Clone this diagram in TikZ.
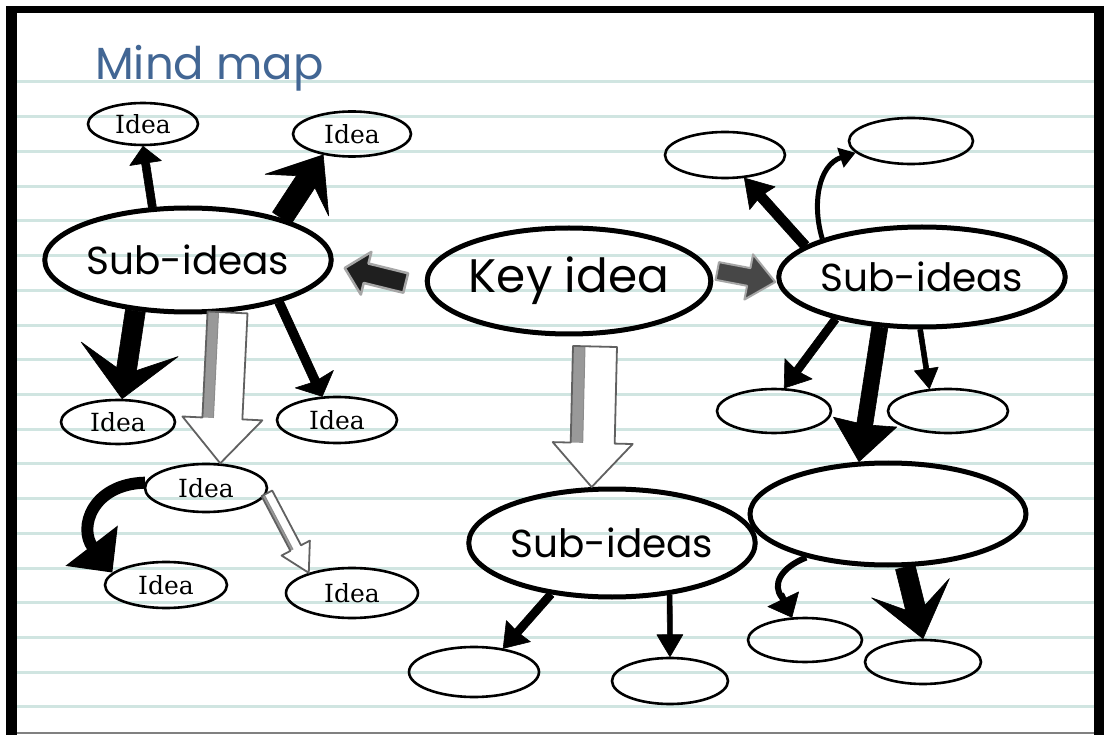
\documentclass[tikz,border=0pt]{standalone}
\usepackage{fontspec}
\usetikzlibrary{shapes.geometric,calc,arrows.meta}
\newfontfamily\handfont{Poppins}
\newfontfamily\ideafont{DejaVu Serif}
\definecolor{ruled}{RGB}{208,229,225}
\definecolor{titleblue}{RGB}{66,102,148}

% block arrow: style, start, tip, shaft half width, head half width, head length, barb distance
\newcommand\blockarr[7]{%
  \coordinate (bas) at #2;
  \coordinate (bat) at #3;
  \coordinate (bah) at ($(bat)!#6pt!(bas)$);
  \coordinate (bab) at ($(bat)!#7pt!(bas)$);
  \path[#1] ($(bas)!#4pt!90:(bat)$) -- ($(bah)!#4pt!-90:(bas)$) -- ($(bab)!#5pt!-90:(bas)$) -- (bat) -- ($(bab)!#5pt!90:(bas)$) -- ($(bah)!#4pt!90:(bas)$) -- ($(bas)!#4pt!-90:(bat)$) -- cycle;
}
% sketched hollow arrow: start, tip, shaft half, head half, head length, shade strip width
\newcommand\hollowarr[6]{%
  \blockarr{hollowfill}{#1}{#2}{#3}{#4}{#5}{#5}
  \pgfmathsetmacro\hinner{#3-#6}
  \fill[sketchshade] ($(bas)!#3pt!-90:(bat)$) -- ($(bah)!#3pt!90:(bas)$) -- ($(bah)!\hinner pt!90:(bas)$) -- ($(bas)!\hinner pt!-90:(bat)$) -- cycle;
  \draw[black!45, line width=1] ($(bas)!\hinner pt!-90:(bat)$) -- ($(bah)!\hinner pt!90:(bas)$);
  \blockarr{hollowline}{#1}{#2}{#3}{#4}{#5}{#5}
}

\begin{document}
\begin{tikzpicture}[x=1pt, y=-1pt,
  bigell/.style={ellipse, draw=black, line width=5, inner sep=0pt, font=\handfont\fontsize{39}{44}\selectfont},
  smallell/.style={ellipse, draw=black, line width=2.6, inner sep=0pt, font=\ideafont\fontsize{25}{30}\selectfont},
  solidarr/.style={fill=black, draw=black, line width=0.6, line join=round},
  darkarr/.style={fill=black!88, draw=black!35, line width=2.5, line join=round},
  grayarr/.style={fill=black!72, draw=black!35, line width=2, line join=round},
  hollowfill/.style={fill=white},
  hollowline/.style={draw=black!62, line width=1.8, line join=round},
  sketchshade/.style={fill=black!40},
  curvearr/.style={draw=black, line cap=butt}
]
\useasboundingbox (0,0) rectangle (1104,735);
% paper and frame
\fill[white] (0,0) rectangle (1104,735);
\foreach \k in {0,...,18} \draw[ruled, line width=3] (17,{82+34.72*\k}) -- (1094,{82+34.72*\k});
\fill[black] (6,6) rectangle (1104,13);
\fill[black] (6,6) rectangle (17,735);
\fill[black] (1094,6) rectangle (1104,735);
\draw[black!50, line width=1.5] (17,733) -- (1094,733);

% title
\node[anchor=base west, text=titleblue, font=\handfont\fontsize{45}{50}\selectfont, inner sep=0pt] (title) at (95,80) {Mind map};

% main nodes
\node[bigell, minimum width=276, minimum height=104] (L) at (188,260) {Sub-ideas};
\node[bigell, minimum width=280, minimum height=106, font=\handfont\fontsize{47}{52}\selectfont] (K) at (569,281) {Key idea};
\node[bigell, minimum width=258, minimum height=100] (R) at (922,277) {Sub-ideas};
\node[bigell, minimum width=284, minimum height=108] (B) at (612,543) {Sub-ideas};
\node[bigell, minimum width=276, minimum height=102] (BR) at (888,514) {};

% idea nodes
\node[smallell, minimum width=110, minimum height=42] (I1) at (143,124) {Idea};
\node[smallell, minimum width=118, minimum height=45] (I2) at (352,134) {Idea};
\node[smallell, minimum width=114, minimum height=44] (I3) at (118,422) {Idea};
\node[smallell, minimum width=120, minimum height=46] (I4) at (337,420) {Idea};
\node[smallell, minimum width=122, minimum height=48] (I5) at (206,488) {Idea};
\node[smallell, minimum width=122, minimum height=46] (I6) at (166,585) {Idea};
\node[smallell, minimum width=132, minimum height=50] (I7) at (352,593) {Idea};
% empty nodes
\node[smallell, minimum width=120, minimum height=46] (RT1) at (725,155) {};
\node[smallell, minimum width=124, minimum height=46] (RT2) at (911,141) {};
\node[smallell, minimum width=114, minimum height=44] (RB1) at (774,411) {};
\node[smallell, minimum width=120, minimum height=44] (RB2) at (948,411) {};
\node[smallell, minimum width=130, minimum height=50] (BB1) at (474,672) {};
\node[smallell, minimum width=116, minimum height=46] (BB2) at (670,681) {};
\node[smallell, minimum width=114, minimum height=44] (BR1) at (805,640) {};
\node[smallell, minimum width=116, minimum height=44] (BR2) at (923,662) {};

% arrows from left sub-ideas
\blockarr{solidarr}{(L.124)}{(I1.south)}{4}{16}{17}{17}
\blockarr{solidarr}{(L.24)}{(I2.216)}{11}{38}{32}{48}
\blockarr{solidarr}{(L.224)}{(I3.80)}{10}{49}{30}{50}
\blockarr{solidarr}{(L.-25)}{(I4.122)}{4.5}{21}{17}{19}
\hollowarr{(L.-53)}{(I5.60)}{20}{40}{45}{11}
\draw[curvearr, line width=12, -{Triangle[width=64pt,length=34pt]}] (I5.175) .. controls (92,484) and (78,528) .. (I6.167);
\hollowarr{(I5.-5)}{(I7.155)}{6}{16}{28}{3}

% arrows from key idea
\blockarr{darkarr}{($(K.west)+(-19,2)$)}{($(L.east)+(11,8)$)}{10}{22}{22}{22}
\blockarr{grayarr}{($(K.east)+(4,-10)$)}{($(R.west)+(-1,5)$)}{9}{23}{27}{27}
\hollowarr{($(K.south)+(26,10)$)}{(B.110)}{22}{40}{44}{12}

% arrows from right sub-ideas
\blockarr{solidarr}{(R.165)}{(RT1.-50)}{5}{17}{25}{27}
\draw[curvearr, line width=5, -{Triangle[width=20pt,length=16pt]}] (R.159) .. controls (812,205) and (818,165) .. (RT2.192);
\blockarr{solidarr}{(R.206)}{(RB1.66)}{4}{17}{22}{24}
\blockarr{solidarr}{(R.-92)}{(RB2.130)}{2.5}{12}{20}{20}
\blockarr{solidarr}{(R.-130)}{(BR.119)}{8}{32}{38}{40}

% arrows from the large empty node
\coordinate (hb1) at ($(BR1.120)+(-10,-20)$);
\draw[curvearr, line width=6] (BR.208) .. controls (780,568) and (772,585) .. (hb1);
\blockarr{solidarr}{($(hb1)+(-1,-3)$)}{(BR1.120)}{3}{17}{20}{20}
\blockarr{solidarr}{(BR.-72)}{(BR2.north)}{10}{40}{32}{52}

% arrows from bottom sub-ideas
\blockarr{solidarr}{(B.-140)}{(BB1.39)}{4}{16}{22}{23}
\blockarr{solidarr}{(B.-42)}{(BB2.north)}{2.5}{13}{22}{22}
\end{tikzpicture}
\end{document}
